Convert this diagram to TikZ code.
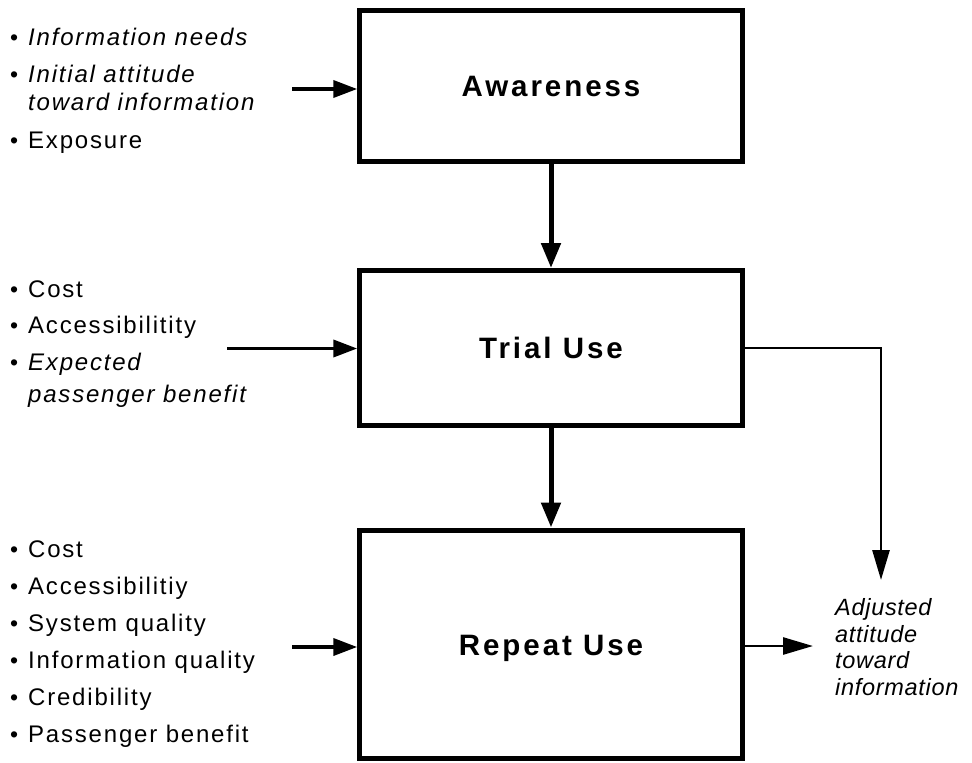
\documentclass[tikz,border=0pt]{standalone}
\usepackage{fontspec}
\setmainfont{Liberation Sans}
\newfontfamily\boxfont[LetterSpace=10]{Liberation Sans}
\newfontfamily\listfont[LetterSpace=7.5]{Liberation Sans}
\newfontfamily\adjfont[LetterSpace=3]{Liberation Sans}
\usetikzlibrary{arrows.meta}
\tikzset{
  box/.style={draw, line width=5pt, minimum width=382.5pt, inner sep=0pt},
  boxlabel/.style={inner sep=0pt, font=\boxfont\bfseries\fontsize{29.5}{34}\selectfont},
  li/.style={anchor=base west, inner sep=0pt, font=\listfont\fontsize{24}{28}\selectfont},
  bul/.style={anchor=base west, inner sep=0pt, font=\listfont\fontsize{23}{27}\selectfont},
  adj/.style={anchor=base west, inner sep=0pt, font=\adjfont\itshape\fontsize{23.5}{27}\selectfont},
  thickarrow/.style={line width=5pt, -{Triangle[length=25pt,width=19pt]}},
  inarrow/.style={line width=3.8pt, -{Triangle[length=24pt,width=17pt]}},
  outarrow/.style={line width=2.7pt, -{Triangle[length=30pt,width=17pt]}}
}
\begin{document}
\begin{tikzpicture}[x=1pt,y=-1pt]
\useasboundingbox (0,0) rectangle (972,763);
% boxes
\node[box, minimum height=150.5pt] (aw) at (551,85.75) {};
\node[boxlabel] (awt) at (551,86.5) {Awareness};
\node[box, minimum height=155pt] (tr) at (551,348) {};
\node[boxlabel] (trt) at (551,347.5) {Trial Use};
\node[box, minimum height=228pt] (rp) at (551,644) {};
\node[boxlabel] (rpt) at (551,648) {Repeat Use};
% list 1
\node[bul] (b11) at (10,45) {•};
\node[li] (l11) at (28,45) {\itshape Information needs};
\node[bul] (b12) at (10,82) {•};
\node[li] (l12) at (28,82) {\itshape Initial attitude};
\node[li] (l12b) at (28,110) {\itshape toward information};
\node[bul] (b13) at (10,148) {•};
\node[li] (l13) at (28,148) {Exposure};
% list 2
\node[bul] (b21) at (10,297) {•};
\node[li] (l21) at (28,297) {Cost};
\node[bul] (b22) at (10,333) {•};
\node[li] (l22) at (28,333) {Accessibilitity};
\node[bul] (b23) at (10,370) {•};
\node[li] (l23) at (28,370) {\itshape Expected};
\node[li] (l23b) at (28,402) {\itshape passenger benefit};
% list 3
\node[bul] (b31) at (10,557) {•};
\node[li] (l31) at (28,557) {Cost};
\node[bul] (b32) at (10,594) {•};
\node[li] (l32) at (28,594) {Accessibilitiy};
\node[bul] (b33) at (10,631) {•};
\node[li] (l33) at (28,631) {System quality};
\node[bul] (b34) at (10,668) {•};
\node[li] (l34) at (28,668) {Information quality};
\node[bul] (b35) at (10,705) {•};
\node[li] (l35) at (28,705) {Credibility};
\node[bul] (b36) at (10,742) {•};
\node[li] (l36) at (28,742) {Passenger benefit};
% adjusted attitude
\node[adj] (a1) at (835,615) {Adjusted};
\node[adj] (a2) at (835,642) {attitude};
\node[adj] (a3) at (835,668) {toward};
\node[adj] (a4) at (835,695) {information};
% connectors
\coordinate (in1) at (292,89);
\coordinate (in2) at (227,348.5);
\coordinate (in3) at (292,647);
\coordinate (adjtip) at (881,580);
\coordinate (outtip) at (813,646);
\draw[inarrow] (in1) -- (in1 -| aw.west);
\draw[inarrow] (in2) -- (in2 -| tr.west);
\draw[inarrow] (in3) -- (in3 -| rp.west);
\draw[thickarrow] (aw.south) -- (tr.north);
\draw[thickarrow] (tr.south) -- (rp.north);
\draw[outarrow] (tr.east) -| (adjtip);
\draw[outarrow] (outtip -| rp.east) -- (outtip);
\end{tikzpicture}
\end{document}
